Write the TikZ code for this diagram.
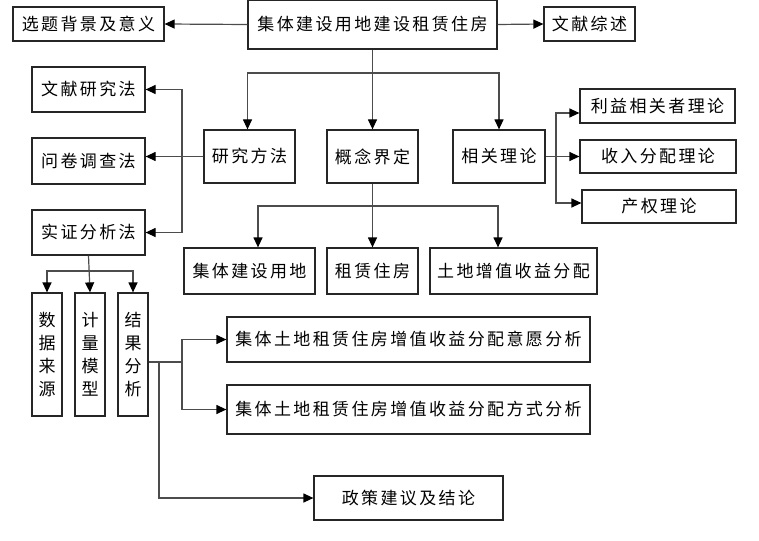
\documentclass[tikz,border=0pt]{standalone}
\usepackage{fontspec}
\newfontfamily\cjk[LetterSpace=14]{Noto Sans CJK SC}
\usetikzlibrary{arrows.meta}
\begin{document}
\begin{tikzpicture}
[x=1pt,y=-1pt,
  boxdecorate/.style={draw=black!85,line width=1.2pt,inner sep=0pt,align=center,
    font=\cjk\fontsize{17}{23}\selectfont},%
  linedecorate/.style={draw=black!70,line width=1.2pt},%
  arrowdecorate/.style={linedecorate,-{Triangle[length=10pt,width=9pt,color=black]}}]
\useasboundingbox (0,0) rectangle (759,540);
%% nodes or boxes
\foreach \nodename/\x/\y/\w/\h/\boxtext in {main/372.5/24.5/249/49/集体建设用地建设租赁住房,
  bg/88.5/24/151/34/选题背景及意义, review/589.5/24/91/34/文献综述,
  literature/88.5/89.5/113/45/文献研究法, survey/88.5/161/113/46/问卷调查法,
  empirical/88.5/232.5/113/45/实证分析法,
  method/249.5/156.5/91/53/研究方法, concept/372.5/156.5/91/53/概念界定,
  theory/499/156.5/92/53/相关理论,
  stake/657.5/106/155/34/利益相关者理论, income/658/156.5/156/33/收入分配理论,
  property/659/206.5/154/33/产权理论,
  collective/249.5/271/131/46/集体建设用地, rent/372.5/271/91/46/租赁住房,
  land/513.5/271/167/46/土地增值收益分配,
  will/408.5/339.5/363/45/集体土地租赁住房增值收益分配意愿分析,
  mode/408.5/409.5/363/49/集体土地租赁住房增值收益分配方式分析,
  policy/408.5/498/189/44/政策建议及结论} {
  \node (\nodename) at (\x,\y) [boxdecorate,minimum width=\w pt,minimum height=\h pt] {\boxtext};
}
\foreach \nodename/\x/\boxtext in {data/47/数\\据\\来\\源, model/90/计\\量\\模\\型,
  result/133/结\\果\\分\\析} {
  \node (\nodename) at (\x,354.5) [boxdecorate,minimum width=30pt,minimum height=123pt] {\boxtext};
}
%% branch points
\coordinate (topbus) at (372.5,73);
\coordinate (methodbus) at (182,156.5);
\coordinate (theorybus) at (556,156.5);
\coordinate (conceptbus) at (372.5,206);
\coordinate (empiricalbus) at (90,271);
\coordinate (resultbus) at (182,362);
\coordinate (policybus) at (159,362);
%% edges or lines
\foreach \startnode/\endnode in {main.west/bg.east, main.east/review.west,
  main.south/concept.north, concept.south/rent.north, empirical.south/model.north,
  theorybus/income.west} {
  \draw[arrowdecorate] (\startnode) -- (\endnode);
}
\draw[arrowdecorate] (topbus) -| ([xshift=-2pt]method.north);
\draw[arrowdecorate] (topbus) -| (theory.north);
\draw[arrowdecorate] (method.west) -- (method.west -| survey.east);
\draw[arrowdecorate] (methodbus) |- (literature.east);
\draw[arrowdecorate] (methodbus) |- (empirical.east);
\draw[linedecorate] (theory.east) -- (theorybus);
\draw[arrowdecorate] (theorybus) |- ([yshift=-7pt]stake.west);
\draw[arrowdecorate] (theorybus) |- ([yshift=3.5pt]property.west);
\draw[arrowdecorate] (conceptbus) -| ([xshift=8.5pt]collective.north);
\draw[arrowdecorate] (conceptbus) -| ([xshift=-15.5pt]land.north);
\draw[arrowdecorate] (empiricalbus) -| (data.north);
\draw[arrowdecorate] (empiricalbus) -| (result.north);
\draw[linedecorate] ([yshift=-7.5pt]result.east) -- (resultbus);
\draw[arrowdecorate] (resultbus) |- (will.west);
\draw[arrowdecorate] (resultbus) |- (mode.west);
\draw[arrowdecorate] (policybus) |- (policy.west);
\end{tikzpicture}
\end{document}
